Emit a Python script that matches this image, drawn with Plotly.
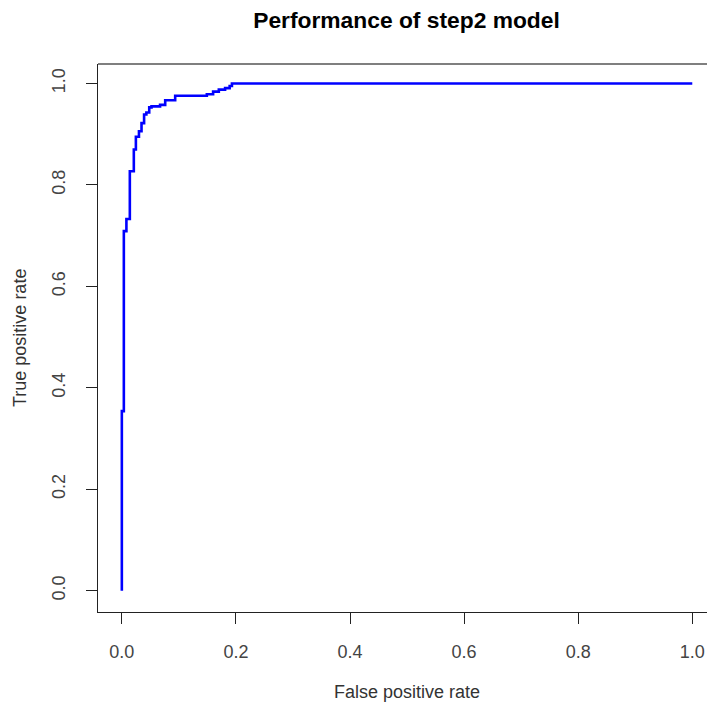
import plotly.graph_objects as go

# ROC curve vertices (false positive rate, true positive rate), drawn as a staircase
fpr = [0.0, 0.0, 0.0035, 0.008, 0.014, 0.021, 0.0246, 0.030, 0.0345, 0.039, 0.043,
       0.048, 0.052, 0.067, 0.076, 0.0935, 0.149, 0.160, 0.170, 0.181, 0.189, 0.193, 1.0]
tpr = [0.0, 0.354, 0.709, 0.733, 0.827, 0.870, 0.895, 0.906, 0.922, 0.939, 0.943,
       0.953, 0.955, 0.958, 0.967, 0.976, 0.979, 0.984, 0.988, 0.991, 0.995, 1.0, 1.0]

tick_vals = [0.0, 0.2, 0.4, 0.6, 0.8, 1.0]
tick_text = ["0.0", "0.2", "0.4", "0.6", "0.8", "1.0"]

title_text = "Performance of step2 model"
x_title = "False positive rate"
y_title = "True positive rate"

FONT = "Liberation Sans, Arial, sans-serif"
TXT = "#333333"

fig = go.Figure()
fig.add_trace(go.Scatter(x=fpr, y=tpr, mode="lines", line=dict(color="#0000FF", width=2.6, shape="hv"),
                         showlegend=False, hoverinfo="skip"))

fig.update_layout(
    width=707, height=706,
    margin=dict(l=98, r=0, t=64, b=94),
    paper_bgcolor="white", plot_bgcolor="white",
    font=dict(family=FONT, size=18, color=TXT),
    title=dict(text="<b>" + title_text + "</b>", x=406.5 / 707, xanchor="center", y=1 - 20 / 706,
               yref="container", yanchor="middle", font=dict(size=22.8, color="#000000", family=FONT)),
    xaxis=dict(range=[-0.0418, 1.0258], tickvals=tick_vals, ticktext=tick_text, showgrid=False, zeroline=False,
               showline=True, linecolor="#222222", linewidth=1.2, ticks="outside", ticklen=11, tickwidth=1.2,
               tickcolor="#222222", ticklabelstandoff=12, tickfont=dict(size=18, color="#444444")),
    yaxis=dict(range=[-0.042, 1.0385], tickvals=tick_vals, ticktext=tick_text, showgrid=False, zeroline=False,
               showline=True, linecolor="#222222", linewidth=1.2, ticks="outside", ticklen=11, tickwidth=1.2,
               tickcolor="#222222", tickangle=-90, ticklabelstandoff=14, tickfont=dict(size=18, color="#444444")),
    shapes=[dict(type="line", xref="paper", yref="paper", x0=0, x1=1, y0=1, y1=1,
                 line=dict(color="#555555", width=1.5))],
    annotations=[
        dict(text=x_title, xref="x", yref="paper", x=0.5, y=0, yshift=-80, showarrow=False,
             xanchor="center", yanchor="middle", font=dict(size=18, color="#333333")),
        dict(text=y_title, xref="paper", yref="paper", x=0, xshift=-78, y=0.5, showarrow=False,
             textangle=-90, xanchor="center", yanchor="middle", font=dict(size=18, color="#333333")),
    ],
)

fig.write_html("out.html", config={"displayModeBar": False},
               post_script="document.body.style.margin='0';document.body.style.overflow='hidden';")
